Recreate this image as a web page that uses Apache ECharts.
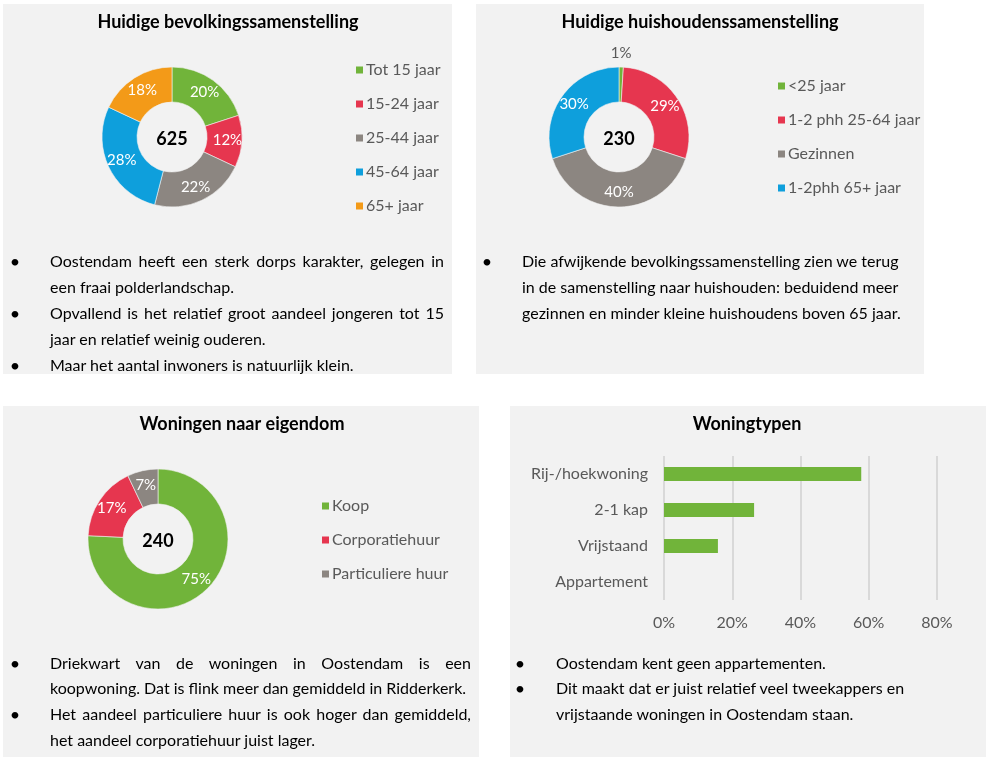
<!DOCTYPE html>
<html>
<head>
<meta charset="utf-8">
<script src="https://cdn.jsdelivr.net/npm/echarts@6/dist/echarts.min.js"></script>
<style>
  html, body { margin: 0; padding: 0; background: #ffffff; }
  #page { position: relative; width: 993px; height: 764px; overflow: hidden; font-family: Lato, "Noto Sans", sans-serif; }
  .panel { position: absolute; background: #f2f2f2; }
  #chart { position: absolute; left: 0; top: 0; width: 993px; height: 764px; z-index: 2; }
  .ln { position: absolute; height: 26px; line-height: 26px; font-size: 16px; color: #000; white-space: nowrap; z-index: 3; }
  .j { text-align: justify; text-align-last: justify; }
  .b { position: absolute; width: 12px; height: 26px; line-height: 26px; font-size: 18px; color: #000; text-align: center; z-index: 3; }
</style>
</head>
<body>
<div id="page">
  <div class="panel" style="left:3px;top:4px;width:449px;height:370px"></div>
  <div class="panel" style="left:476px;top:4px;width:448px;height:370px"></div>
  <div class="panel" style="left:3px;top:406px;width:476px;height:351px"></div>
  <div class="panel" style="left:510px;top:406px;width:476px;height:351px"></div>
  <div id="chart"></div>

  <!-- Panel 1 text -->
  <div class="b" style="left:9px;top:248px">•</div>
  <div class="ln j" style="left:50px;top:248px;width:394px">Oostendam heeft een sterk dorps karakter, gelegen in</div>
  <div class="ln" style="left:50px;top:274px">een fraai polderlandschap.</div>
  <div class="b" style="left:9px;top:300px">•</div>
  <div class="ln j" style="left:50px;top:300px;width:394px">Opvallend is het relatief groot aandeel jongeren tot 15</div>
  <div class="ln" style="left:50px;top:326px">jaar en relatief weinig ouderen.</div>
  <div class="b" style="left:9px;top:352px">•</div>
  <div class="ln" style="left:50px;top:352px">Maar het aantal inwoners is natuurlijk klein.</div>

  <!-- Panel 2 text -->
  <div class="b" style="left:481px;top:248px">•</div>
  <div class="ln" style="left:522px;top:248px">Die afwijkende bevolkingssamenstelling zien we terug</div>
  <div class="ln" style="left:522px;top:274px">in de samenstelling naar huishouden: beduidend meer</div>
  <div class="ln" style="left:522px;top:300px">gezinnen en minder kleine huishoudens boven 65 jaar.</div>

  <!-- Panel 3 text -->
  <div class="b" style="left:9px;top:650px">•</div>
  <div class="ln j" style="left:50px;top:650px;width:421px">Driekwart van de woningen in Oostendam is een</div>
  <div class="ln" style="left:50px;top:675px">koopwoning. Dat is flink meer dan gemiddeld in Ridderkerk.</div>
  <div class="b" style="left:9px;top:701px">•</div>
  <div class="ln j" style="left:50px;top:701px;width:421px">Het aandeel particuliere huur is ook hoger dan gemiddeld,</div>
  <div class="ln" style="left:50px;top:727px">het aandeel corporatiehuur juist lager.</div>

  <!-- Panel 4 text -->
  <div class="b" style="left:514px;top:650px">•</div>
  <div class="ln" style="left:556px;top:650px">Oostendam kent geen appartementen.</div>
  <div class="b" style="left:514px;top:675px">•</div>
  <div class="ln" style="left:556px;top:675px">Dit maakt dat er juist relatief veel tweekappers en</div>
  <div class="ln" style="left:556px;top:701px">vrijstaande woningen in Oostendam staan.</div>
</div>
<script>
// ---- Data ----
const popCategories = ['Tot 15 jaar', '15-24 jaar', '25-44 jaar', '45-64 jaar', '65+ jaar'];
const popValues = [20, 12, 22, 28, 18];
const popTotal = '625';

const hhCategories = ['<25 jaar', '1-2 phh 25-64 jaar', 'Gezinnen', '1-2phh 65+ jaar'];
const hhValues = [1, 29, 40, 30];
const hhTotal = '230';

const ownCategories = ['Koop', 'Corporatiehuur', 'Particuliere huur'];
const ownValues = [75, 17, 7];
const ownTotal = '240';

const typeCategories = ['Rij-/hoekwoning', '2-1 kap', 'Vrijstaand', 'Appartement'];
const typeValues = [57.8, 26.4, 15.8, 0];

const panelTitles = ['Huidige bevolkingssamenstelling', 'Huidige huishoudenssamenstelling', 'Woningen naar eigendom', 'Woningtypen'];

// ---- Styles ----
const GREEN = '#71b43a', RED = '#e6364f', GRAY = '#8c8681', BLUE = '#0e9fdc', ORANGE = '#f39a18';
const popColors = [GREEN, RED, GRAY, BLUE, ORANGE];
const hhColors = [GREEN, RED, GRAY, BLUE];
const ownColors = [GREEN, RED, GRAY];
const FONT = 'Lato';
const TXT = '#595959';

function pieData(names, values, colors) {
  return names.map((n, i) => ({ name: n, value: values[i], itemStyle: { color: colors[i] } }));
}

const chart = echarts.init(document.getElementById('chart'), null, { renderer: 'canvas' });

const titleStyle = { fontFamily: FONT, fontWeight: 'bold', fontSize: 18, color: '#000' };
const totalStyle = { fontFamily: FONT, fontWeight: 'bold', fontSize: 18, color: '#000' };

const pieCommon = {
  type: 'pie',
  radius: [35, 70],
  startAngle: 90,
  clockwise: true,
  avoidLabelOverlap: false,
  silent: true,
  label: { show: true, position: 'inside', formatter: '{c}%', color: '#fff', fontSize: 15, fontFamily: FONT },
  labelLine: { show: false },
  itemStyle: { borderColor: '#f2f2f2', borderWidth: 0.6 },
  emphasis: { disabled: true }
};

const hhData = pieData(hhCategories, hhValues, hhColors);
hhData[0].label = { position: 'outside', color: TXT };
hhData[0].labelLine = { show: false, length: 4, length2: 0 };

const legendCommon = {
  orient: 'vertical',
  icon: 'rect',
  itemWidth: 9,
  itemHeight: 9,
  itemGap: 18,
  selectedMode: false,
  textStyle: { fontFamily: FONT, fontSize: 16, color: TXT, lineHeight: 16, padding: [0, 0, 0, -3] }
};

function centeredTitle(text, x, top, style) {
  return { text: text, left: x, top: top, textAlign: 'center', padding: [5, 0], textStyle: style };
}

chart.setOption({
  animation: false,
  backgroundColor: 'transparent',
  title: [
    centeredTitle(panelTitles[0], 228, 8, titleStyle),
    centeredTitle(panelTitles[1], 700, 8, titleStyle),
    centeredTitle(panelTitles[2], 242, 410, titleStyle),
    centeredTitle(panelTitles[3], 747, 410, titleStyle),
    centeredTitle(popTotal, 172, 125, totalStyle),
    centeredTitle(hhTotal, 619, 125, totalStyle),
    centeredTitle(ownTotal, 158, 527, totalStyle)
  ],
  legend: [
    Object.assign({}, legendCommon, { left: 349, top: 57, data: popCategories }),
    Object.assign({}, legendCommon, { left: 771, top: 73, data: hhCategories }),
    Object.assign({}, legendCommon, { left: 315, top: 493, data: ownCategories })
  ],
  grid: { left: 664, top: 456, width: 273, height: 144, containLabel: false },
  xAxis: {
    type: 'value', min: 0, max: 80, interval: 20,
    axisLine: { show: false }, axisTick: { show: false },
    axisLabel: { formatter: '{value}%', color: TXT, fontSize: 16, fontFamily: FONT, margin: 15 },
    splitLine: { show: true, lineStyle: { color: '#d9d9d9', width: 2 } }
  },
  yAxis: {
    type: 'category', data: typeCategories, inverse: true,
    axisLine: { show: false }, axisTick: { show: false },
    axisLabel: { color: TXT, fontSize: 16, fontFamily: FONT, margin: 16 }
  },
  series: [
    Object.assign({}, pieCommon, { name: 'bevolking', center: [172, 137], data: pieData(popCategories, popValues, popColors) }),
    Object.assign({}, pieCommon, {
      name: 'huishoudens', center: [619, 137], data: hhData,
      labelLayout: function (p) {
        if (p.dataIndex !== 0) return {};
        // centre the small-slice label above the slice it belongs to
        return { x: p.rect.x + p.rect.width / 2, y: p.rect.y - 6, align: 'center', verticalAlign: 'bottom' };
      }
    }),
    Object.assign({}, pieCommon, { name: 'eigendom', center: [158, 539], data: pieData(ownCategories, ownValues, ownColors) }),
    { type: 'bar', name: 'Woningtypen', data: typeValues, barWidth: 14, itemStyle: { color: GREEN }, silent: true }
  ]
});
</script>
</body>
</html>
